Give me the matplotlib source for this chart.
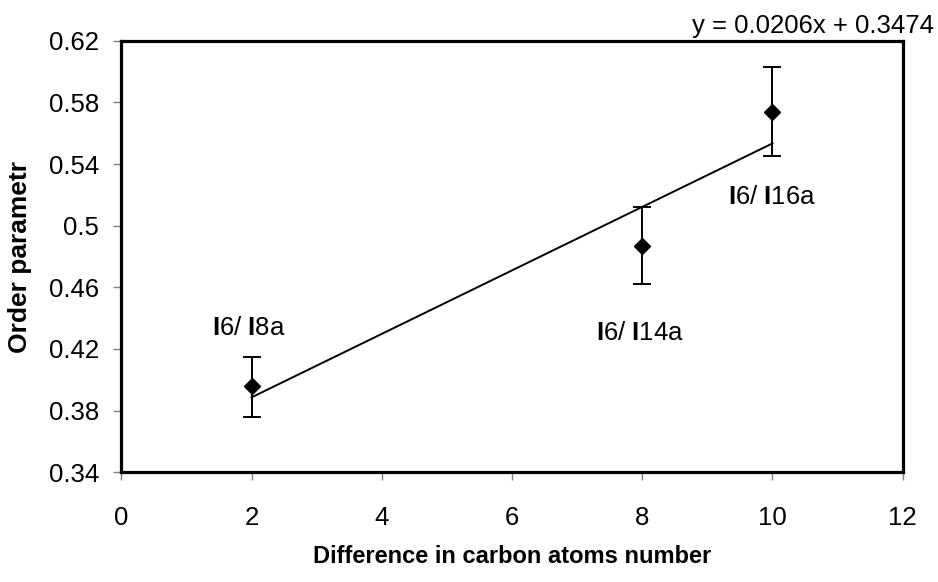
import matplotlib
matplotlib.use("Agg")
import matplotlib.pyplot as plt
import numpy as np

plt.rcParams['font.family'] = ['Liberation Sans', 'DejaVu Sans']
plt.rcParams['mathtext.fontset'] = 'custom'
plt.rcParams['mathtext.rm'] = 'Liberation Sans'
plt.rcParams['mathtext.bf'] = 'Liberation Sans:bold'

x_vals = [2, 8, 10]
y_vals = [0.396, 0.487, 0.574]
err_up = [0.415, 0.512, 0.603]
err_down = [0.376, 0.462, 0.545]
labels = [r"$\mathbf{I}$6/ $\mathbf{I}$8a", r"$\mathbf{I}$6/ $\mathbf{I}$14a", r"$\mathbf{I}$6/ $\mathbf{I}$16a"]
label_pos = [(1.96, 0.4293), (7.96, 0.426), (9.99, 0.5141)]
slope, intercept = 0.0206, 0.3474
x_ticks = [0, 2, 4, 6, 8, 10, 12]
y_ticks = [0.34, 0.38, 0.42, 0.46, 0.5, 0.54, 0.58, 0.62]
y_ticklabels = ["0.34", "0.38", "0.42", "0.46", "0.5", "0.54", "0.58", "0.62"]

fig = plt.figure(figsize=(9.38, 5.82), dpi=100)
ax = fig.add_axes([0.1293, 0.1885, 0.9624 - 0.1293, 0.930 - 0.1885])

x = np.array(x_vals)
y = np.array(y_vals)
yerr = [y - np.array(err_down), np.array(err_up) - y]
ax.errorbar(x, y, yerr=yerr, fmt='D', color='black', markersize=8.5,
            ecolor='black', elinewidth=1.4, capsize=6.5, capthick=1.4, zorder=3)

xt = np.array([min(x_vals), max(x_vals)])
ax.plot(xt, slope * xt + intercept, color='black', linewidth=1.4, zorder=2)

for (lx, ly), t in zip(label_pos, labels):
    ax.text(lx, ly, t, ha='center', va='baseline', fontsize=18.5)

fig.text(0.867, 0.943, "y = 0.0206x + 0.3474", ha='center', va='baseline', fontsize=18.5)

ax.set_xlim(0, 12)
ax.set_ylim(0.34, 0.62)
ax.set_xticks(x_ticks)
ax.set_xticklabels([str(v) for v in x_ticks])
ax.set_yticks(y_ticks)
ax.set_yticklabels(y_ticklabels)
ax.tick_params(axis='both', labelsize=18.5, direction='out', length=6, width=1, color='#808080')
ax.tick_params(axis='x', pad=18)
ax.tick_params(axis='y', pad=10)
for s in ax.spines.values():
    s.set_linewidth(2.3)
    s.set_color('black')

ax.set_xlabel("Difference in carbon atoms number", fontsize=17, fontweight='bold', labelpad=11)
ax.set_ylabel("Order parametr", fontsize=19, fontweight='bold', labelpad=12)

fig.savefig("out.png", dpi=100)
